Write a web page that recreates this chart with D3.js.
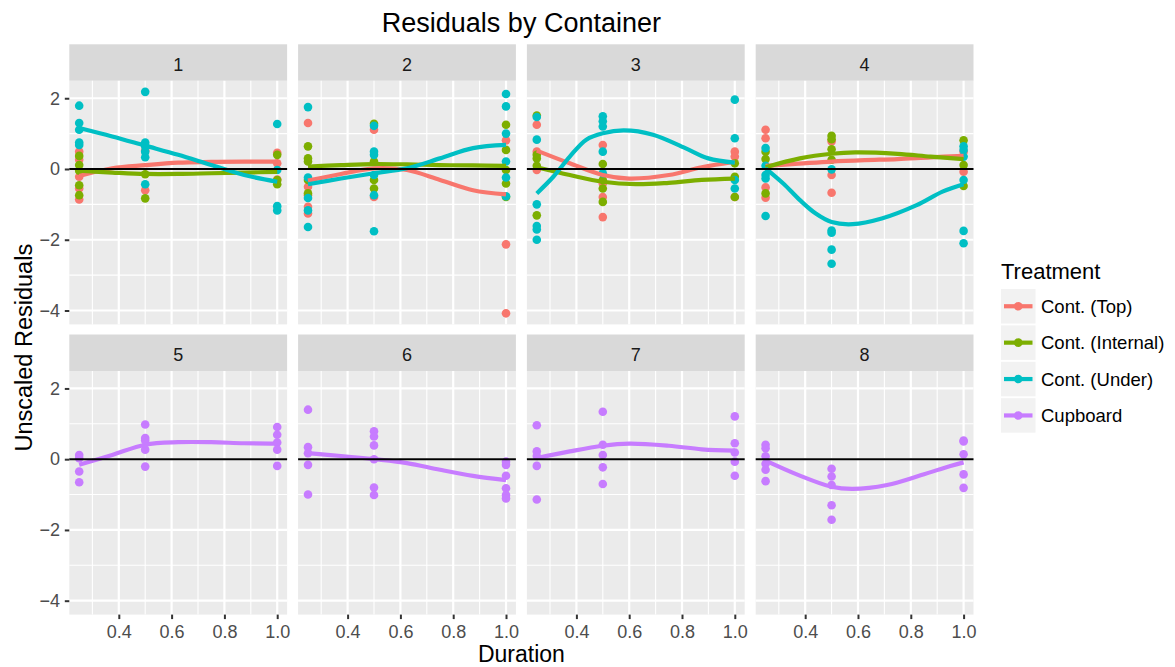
<!DOCTYPE html>
<html>
<head>
<meta charset="utf-8">
<title>Residuals by Container</title>
<script src="https://d3js.org/d3.v7.min.js"></script>
<style>
  body { margin: 0; background: #fff; }
  text { font-family: "Liberation Sans", Arial, sans-serif; }
</style>
</head>
<body>
<script>
var treatments = ["Cont. (Top)", "Cont. (Internal)", "Cont. (Under)", "Cupboard"];
var colors = ["#F8766D", "#7CAE00", "#00BFC4", "#C77CFF"];
var containers = [1, 2, 3, 4, 5, 6, 7, 8];
var durations = [0.25, 0.5, 1.0];
var xTicks = [0.4, 0.6, 0.8, 1.0];
var xMinor = [0.3, 0.5, 0.7, 0.9];
var yTicks = [-4, -2, 0, 2];
var yMinor = [-3, -1, 1];

// residuals per container (1-4), one list per duration (0.25, 0.5, 1.0)
var topRes = [
  [[0.49, 0.26, -0.22, -0.55, -0.86], [0.52, -0.6], [0.46, 0.16, -0.3]],
  [[1.3, -0.5, -0.74, -1.07, -1.26], [1.11, -0.79], [0.81, -2.13, -4.08]],
  [[1.25, 0.49, -0.03], [0.68, -0.41, -0.79, -1.36], [0.49, 0.35, -0.79]],
  [[1.11, 0.87, -0.52, -0.81], [0.78, -0.17, -0.67], [0.49, -0.08]]
];
var internalRes = [
  [[0.37, 0.11, -0.05, -0.46, -0.74], [-0.15, -0.83], [0.4, -0.31, -0.43]],
  [[0.64, 0.3, 0.21, -0.31, -0.69], [1.28, 0.21, -0.31, -0.55], [1.25, 0.54, -0.03, -0.41, -0.79]],
  [[1.51, 0.4, 0.3, 0.09, -1.31], [0.14, -0.31, -0.55, -0.93], [0.16, -0.22, -0.79]],
  [[0.49, 0.28, -0.69], [0.94, 0.84, 0.56, 0.26], [0.81, 0.11, -0.48]]
];
var underRes = [
  [[1.79, 1.3, 1.11, 0.75, 0.68], [2.18, 0.75, 0.64, 0.49, 0.33, -0.43], [1.27, -0.03, -1.05, -1.17]],
  [[1.75, -0.24, -0.82, -1.17, -1.64], [1.22, 0.49, 0.4, -0.17, -0.74, -1.76], [2.12, 1.77, 1.0, 0.21, -0.24, -0.77]],
  [[1.47, 0.83, -1.0, -1.61, -1.71, -2.0], [1.49, 1.35, 1.2, 0.49, -0.12], [1.96, 0.87, -0.31, -0.55]],
  [[0.59, 0.09, -0.17, -0.27, -1.33], [-0.01, -1.74, -1.8, -2.28, -2.68], [0.64, 0.54, 0.35, -0.31, -1.75, -2.1]]
];
// cupboard: containers 5-8
var cupboardRes = [
  [[0.12, 0.03, -0.35, -0.65], [0.98, 0.6, 0.53, 0.27, -0.21], [0.91, 0.69, 0.47, 0.27, -0.19]],
  [[1.4, 0.34, 0.17, -0.16, -1.0], [0.79, 0.64, 0.39, 0.0, -0.8, -1.01], [-0.07, -0.16, -0.47, -0.82, -1.01, -1.11]],
  [[0.96, 0.22, 0.09, -0.19, -1.14], [1.34, 0.41, 0.12, -0.23, -0.7], [1.21, 0.45, 0.19, -0.07, -0.47]],
  [[0.41, 0.31, 0.08, -0.13, -0.3, -0.62], [-0.27, -0.49, -0.73, -1.3, -1.71], [0.53, 0.5, 0.14, -0.43, -0.81]]
];

// loess fits: [duration, residual]
var topFit = [
  [[0.25, -0.2], [0.375, 0.02], [0.5, 0.11], [0.625, 0.18], [0.75, 0.2], [0.875, 0.21], [1, 0.21]],
  [[0.25, -0.33], [0.375, -0.14], [0.5, 0.02], [0.625, -0.03], [0.75, -0.31], [0.875, -0.6], [1, -0.72]],
  [[0.25, 0.52], [0.375, 0.16], [0.5, -0.17], [0.6, -0.27], [0.75, -0.17], [0.875, 0.05], [1, 0.21]],
  [[0.25, 0.09], [0.375, 0.15], [0.5, 0.21], [0.625, 0.25], [0.75, 0.28], [0.875, 0.33], [1, 0.37]]
];
var internalFit = [
  [[0.25, -0.05], [0.375, -0.1], [0.5, -0.14], [0.625, -0.14], [0.75, -0.12], [0.875, -0.1], [1, -0.08]],
  [[0.25, 0.07], [0.375, 0.11], [0.5, 0.14], [0.625, 0.13], [0.75, 0.11], [0.875, 0.1], [1, 0.09]],
  [[0.25, 0.05], [0.375, -0.17], [0.5, -0.36], [0.625, -0.43], [0.75, -0.39], [0.875, -0.31], [1, -0.27]],
  [[0.25, 0.05], [0.38, 0.3], [0.5, 0.43], [0.59, 0.47], [0.75, 0.43], [0.875, 0.35], [1, 0.28]]
];
var underFit = [
  [[0.25, 1.16], [0.375, 0.92], [0.5, 0.66], [0.625, 0.4], [0.75, 0.11], [0.875, -0.17], [1, -0.36]],
  [[0.25, -0.43], [0.375, -0.27], [0.5, -0.12], [0.625, 0.02], [0.75, 0.3], [0.875, 0.59], [1, 0.68]],
  [[0.25, -0.69], [0.3125, -0.22], [0.375, 0.35], [0.4375, 0.83], [0.5, 1.01], [0.58, 1.09], [0.69, 0.97], [0.8125, 0.59], [0.9, 0.3], [1, 0.18]],
  [[0.25, 0.02], [0.317, -0.41], [0.38, -0.88], [0.44, -1.26], [0.5, -1.5], [0.58, -1.56], [0.69, -1.4], [0.82, -1.03], [0.92, -0.64], [1, -0.43]]
];
var cupboardFit = [
  [[0.25, -0.16], [0.375, 0.12], [0.5, 0.41], [0.625, 0.48], [0.75, 0.48], [0.875, 0.45], [1, 0.44]],
  [[0.25, 0.17], [0.375, 0.09], [0.5, 0.0], [0.625, -0.11], [0.75, -0.3], [0.875, -0.47], [1, -0.59]],
  [[0.25, 0.03], [0.375, 0.22], [0.5, 0.38], [0.6, 0.44], [0.75, 0.38], [0.875, 0.28], [1, 0.24]],
  [[0.25, -0.04], [0.375, -0.45], [0.5, -0.78], [0.58, -0.84], [0.71, -0.73], [0.84, -0.45], [0.95, -0.19], [1, -0.09]]
];

var w = 1175, h = 667;
var stripH = 36.5, panelH = 243.6;
var rowTop = [44.3, 334.5];

// gather per container: list of {t, res, fit}
var groups = containers.map(function(c) { return []; });
[topRes, internalRes, underRes].forEach(function(res, t) {
  var fits = [topFit, internalFit, underFit][t];
  res.forEach(function(byDur, i) {
    groups[i].push({t: t, res: byDur, fit: fits[i]});
  });
});
cupboardRes.forEach(function(byDur, i) {
  groups[i + 4].push({t: 3, res: byDur, fit: cupboardFit[i]});
});

var allVals = [];
groups.forEach(function(g) { g.forEach(function(s) { s.res.forEach(function(v) { allVals = allVals.concat(v); }); }); });

var col = d3.scaleBand().domain([0, 1, 2, 3]).range([69.3, 973.5]).paddingInner(0.048);
var panelW = col.bandwidth();

var yExt = d3.extent(allVals), yPad = (yExt[1] - yExt[0]) * 0.05;
var y = d3.scaleLinear().domain([yExt[0] - yPad, yExt[1] + yPad]).range([panelH, 0]);
var xExt = d3.extent(durations), xPad = (xExt[1] - xExt[0]) * 0.05;
var x = d3.scaleLinear().domain([xExt[0] - xPad, xExt[1] + xPad]).range([0, panelW]);

var svg = d3.select("body").append("svg").attr("width", w).attr("height", h);

var line = d3.line()
  .x(function(d) { return x(d[0]); })
  .y(function(d) { return y(d[1]); })
  .curve(d3.curveCatmullRom.alpha(0.5));

containers.forEach(function(cont, i) {
  var r = Math.floor(i / 4), c = i % 4;
  var g = svg.append("g").attr("transform", "translate(" + col(c) + "," + (rowTop[r] + stripH) + ")");

  g.append("rect").attr("y", -stripH).attr("width", panelW).attr("height", stripH).attr("fill", "#d9d9d9");
  g.append("text").attr("x", panelW / 2).attr("y", -stripH + 26.3)
    .attr("text-anchor", "middle").attr("font-size", "18px").attr("fill", "#1a1a1a").text(cont);

  g.append("rect").attr("width", panelW).attr("height", panelH).attr("fill", "#ebebeb");

  g.selectAll(".ymin").data(yMinor).enter().append("line")
    .attr("x1", 0).attr("x2", panelW).attr("y1", y).attr("y2", y)
    .attr("stroke", "#fff").attr("stroke-width", 1.1);
  g.selectAll(".xmin").data(xMinor).enter().append("line")
    .attr("y1", 0).attr("y2", panelH).attr("x1", x).attr("x2", x)
    .attr("stroke", "#fff").attr("stroke-width", 1.1);
  g.selectAll(".ymaj").data(yTicks).enter().append("line")
    .attr("x1", 0).attr("x2", panelW).attr("y1", y).attr("y2", y)
    .attr("stroke", "#fff").attr("stroke-width", 2.2);
  g.selectAll(".xmaj").data(xTicks).enter().append("line")
    .attr("y1", 0).attr("y2", panelH).attr("x1", x).attr("x2", x)
    .attr("stroke", "#fff").attr("stroke-width", 2.2);

  groups[i].forEach(function(s) {
    var pts = [];
    s.res.forEach(function(vals, k) {
      vals.forEach(function(v) { pts.push([durations[k], v]); });
    });
    g.selectAll(null).data(pts).enter().append("circle")
      .attr("cx", function(d) { return x(d[0]); })
      .attr("cy", function(d) { return y(d[1]); })
      .attr("r", 4.3)
      .attr("fill", colors[s.t]);
  });

  groups[i].forEach(function(s) {
    g.append("path").attr("d", line(s.fit))
      .attr("fill", "none").attr("stroke", colors[s.t]).attr("stroke-width", 4.2);
  });

  g.append("line").attr("x1", 0).attr("x2", panelW).attr("y1", y(0)).attr("y2", y(0))
    .attr("stroke", "#000").attr("stroke-width", 2);

  if (c === 0) {
    var ya = g.append("g").call(d3.axisLeft(y).tickValues(yTicks).tickFormat(d3.format("d")).tickSize(4.5).tickPadding(4.8));
    ya.select(".domain").remove();
    ya.selectAll("line").attr("stroke", "#333").attr("stroke-width", 2);
    ya.selectAll("text").attr("fill", "#4d4d4d").attr("font-size", "18px")
      .attr("font-family", "Liberation Sans, Arial, sans-serif");
  }
  if (r === 1) {
    var xa = g.append("g").attr("transform", "translate(0," + panelH + ")")
      .call(d3.axisBottom(x).tickValues(xTicks).tickFormat(d3.format(".1f")).tickSize(4.5).tickPadding(6.5));
    xa.select(".domain").remove();
    xa.selectAll("line").attr("stroke", "#333").attr("stroke-width", 2);
    xa.selectAll("text").attr("fill", "#4d4d4d").attr("font-size", "18px")
      .attr("font-family", "Liberation Sans, Arial, sans-serif");
  }
});

var midX = 69.3 + (973.5 - 69.3) / 2;
svg.append("text").attr("x", midX).attr("y", 31.5).attr("text-anchor", "middle")
  .attr("font-size", "27px").attr("fill", "#000").text("Residuals by Container");
svg.append("text").attr("x", midX).attr("y", 662).attr("text-anchor", "middle")
  .attr("font-size", "23px").attr("fill", "#000").text("Duration");
svg.append("text").attr("transform", "translate(31.5," + ((rowTop[0] + stripH + rowTop[1] + stripH + panelH) / 2) + ") rotate(-90)")
  .attr("text-anchor", "middle").attr("font-size", "23.5px").attr("fill", "#000").text("Unscaled Residuals");

// legend
var lg = svg.append("g").attr("transform", "translate(1001,0)");
lg.append("text").attr("x", 0).attr("y", 279.3).attr("font-size", "22px").attr("fill", "#000").text("Treatment");
var key = lg.selectAll(".key").data(treatments).enter().append("g")
  .attr("transform", function(d, i) { return "translate(0," + (289 + i * 36.4) + ")"; });
key.append("rect").attr("width", 34.5).attr("height", 34.5).attr("fill", "#f2f2f2");
key.append("line").attr("x1", 3).attr("x2", 31.5).attr("y1", 17.25).attr("y2", 17.25)
  .attr("stroke", function(d, i) { return colors[i]; }).attr("stroke-width", 4.2);
key.append("circle").attr("cx", 17.25).attr("cy", 17.25).attr("r", 4.3)
  .attr("fill", function(d, i) { return colors[i]; });
key.append("text").attr("x", 40).attr("y", 17.25 + 6.6).attr("font-size", "18.5px").attr("fill", "#000")
  .text(function(d) { return d; });
</script>
</body>
</html>
